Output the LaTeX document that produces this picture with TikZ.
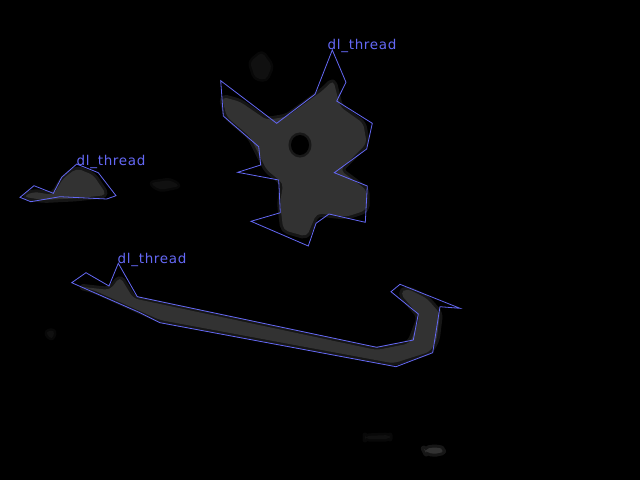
\documentclass[tikz,border=0pt]{standalone}
\usepackage{fontspec}
\setmainfont{DejaVu Sans}
\definecolor{bluel}{RGB}{100,104,245}
\definecolor{blob}{RGB}{50,50,50}
\definecolor{faint}{RGB}{16,16,16}
\tikzset{
  mask/.style={fill=blob, rounded corners=5pt, postaction={draw=blob, draw opacity=0.45, line width=6pt, line join=round}},
  faintmask/.style={fill=faint, rounded corners=4pt, postaction={draw=faint, draw opacity=0.5, line width=5pt, line join=round}},
  outline/.style={draw=bluel, line width=0.8pt, line join=miter},
  lbl/.style={text=bluel, font=\fontsize{13.5}{14}\addfontfeature{LetterSpace=5}\selectfont, inner sep=0pt, anchor=west}
}
\begin{document}
\begin{tikzpicture}[x=1pt,y=-1pt]
\fill[black] (0,0) rectangle (640,480);
\useasboundingbox (0,0) rectangle (640,480);
% faint background blobs
\fill[faintmask] (250,62) -- (262,52) -- (272,66) -- (266,80) -- (255,78) -- cycle;
\fill[faintmask] (150,183) -- (170,180) -- (180,186) -- (160,190) -- cycle;
\fill[faintmask] (45,332) -- (55,330) -- (52,340) -- cycle;
\fill[faintmask] (365,436) -- (390,435) -- (390,439) -- (365,439) -- cycle;
\fill[mask] (424,449) -- (437,447) -- (445,450) -- (439,454) -- (426,453) -- cycle;
% star blob
\fill[mask] (221.7,96.7) -- (240,101.7) -- (266.7,120) -- (286.7,116.7) -- (310,100) -- (323.3,90) -- (333.3,80) -- (340,106.7) -- (363.3,123.3) -- (366.7,143.3) -- (340,170) -- (366.7,190) -- (366.7,210) -- (346.7,216.7) -- (316.7,213.3) -- (306.7,236.7) -- (283.3,230) -- (280,203.3) -- (283.3,183.3) -- (266.7,170) -- (260,156.7) -- (250,136.7) -- (226.7,116.7) -- cycle;
\fill[black] (300,145) ellipse [x radius=9pt, y radius=10pt];
\draw[black, opacity=0.5, line width=5pt] (300,145) ellipse [x radius=9pt, y radius=10pt];
% small blob
\fill[mask] (23.3,196.7) -- (33.3,191.7) -- (53.3,195) -- (63.3,178.3) -- (76.7,168.3) -- (93.3,175) -- (106.7,195) -- (76.7,198.3) -- (43.3,200) -- cycle;
% long blob
\fill[mask] (80,286.7) -- (110,290) -- (120,276.7) -- (133.3,298.3) -- (376.7,350) -- (410,343.3) -- (420,316.7) -- (400,293.3) -- (406.7,288.3) -- (426.7,298.3) -- (440,313.3) -- (436.7,340) -- (430,351.7) -- (393.3,363.3) -- (160,320) -- (93.3,290) -- cycle;
% outlines
\draw[outline] (332.3,50) -- (346,82.3) -- (336.7,101) -- (372.3,123.3) -- (366.7,149) -- (334.3,172.7) -- (367.3,186) -- (365.3,222.3) -- (329,214) -- (316,223.3) -- (308.3,246) -- (251,221.3) -- (280.3,212.7) -- (278.7,180) -- (237.7,172.3) -- (260.7,165) -- (258.7,146.7) -- (223.3,116) -- (220.7,80.7) -- (276.7,123.3) -- (315,94.3) -- cycle;
\draw[outline] (20,197.3) -- (34,185.7) -- (53.3,193.3) -- (61.7,177.3) -- (76.7,164) -- (98.3,172.7) -- (116,195.7) -- (106.7,199) -- (60,196.7) -- (30.7,201.7) -- cycle;
\draw[outline] (71.7,282.7) -- (86,272.7) -- (109,286) -- (118.3,263.3) -- (137.3,296.7) -- (376.7,347.3) -- (413.3,340) -- (418.3,314) -- (391,291.7) -- (400,284.3) -- (460,308.3) -- (440,306.7) -- (432.7,352.7) -- (396,366.7) -- (160,322.7) -- (140,312.7) -- cycle;
% labels
\node[lbl] (l1) at (327.5,45.5) {dl\_thread};
\node[lbl] (l2) at (76.5,161.5) {dl\_thread};
\node[lbl] (l3) at (117.5,259.5) {dl\_thread};
\end{tikzpicture}
\end{document}
